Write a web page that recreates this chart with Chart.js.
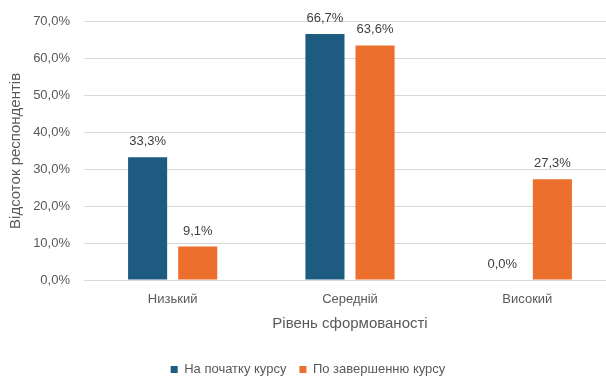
<!DOCTYPE html>
<html lang="uk">
<head>
<meta charset="utf-8">
<title>Рівень сформованості</title>
<script src="https://cdn.jsdelivr.net/npm/chart.js@4/dist/chart.umd.min.js"></script>
<style>
  html, body { margin: 0; padding: 0; background: #fff; overflow: hidden; }
  #wrap { position: relative; width: 620px; height: 386px; }
</style>
</head>
<body>
<div id="wrap"><canvas id="grafik"></canvas></div>
<script>
  // Дані діаграми
  const categorias = ['Низький', 'Середній', 'Високий'];
  const serieNomes = ['На початку курсу', 'По завершенню курсу'];
  const naPochatku = [33.3, 66.7, 0.0];
  const poZavershenniu = [9.1, 63.6, 27.3];
  const yMax = 70;
  const yPasso = 10;

  const CORES = ['#1d5b80', '#ec6f2d'];
  const TEXTO = '#595959';
  const GRADE = '#d9d9d9';
  const FONTE = "'Liberation Sans', Arial, sans-serif";

  const fmtPct = (v) => v.toFixed(1).replace('.', ',') + '%';

  // Rótulos de valor acima de cada barra
  const rotulosBarras = {
    id: 'rotulosBarras',
    afterDatasetsDraw(chart) {
      const ctx = chart.ctx;
      ctx.save();
      ctx.font = `13px ${FONTE}`;
      ctx.fillStyle = '#404040';
      ctx.textAlign = 'center';
      ctx.textBaseline = 'bottom';
      chart.data.datasets.forEach((ds, i) => {
        chart.getDatasetMeta(i).data.forEach((bar, j) => {
          ctx.fillText(fmtPct(ds.data[j]), bar.x, bar.y - 9);
        });
      });
      ctx.restore();
    },
  };

  const dados = {
    labels: categorias,
    datasets: [
      { label: serieNomes[0], data: naPochatku, backgroundColor: CORES[0] },
      { label: serieNomes[1], data: poZavershenniu, backgroundColor: CORES[1] },
    ].map((d) => ({ ...d, categoryPercentage: 0.565, barPercentage: 0.78 })),
  };

  const opcoes = {
    responsive: true,
    maintainAspectRatio: false,
    animation: false,
    layout: { padding: { top: 19, right: 4, left: 0, bottom: 0 } },
    plugins: {
      legend: {
        position: 'bottom',
        labels: {
          color: TEXTO,
          font: { family: FONTE, size: 13 },
          boxWidth: 7,
          boxHeight: 7,
          padding: 13,
        },
      },
      tooltip: { enabled: false },
    },
    scales: {
      x: {
        grid: { display: false, drawTicks: false },
        border: { color: GRADE },
        ticks: { color: TEXTO, font: { family: FONTE, size: 13 }, padding: 12 },
        title: {
          display: true,
          text: 'Рівень сформованості',
          color: TEXTO,
          font: { family: FONTE, size: 15 },
          padding: { top: 0, bottom: 17 },
        },
        afterFit: (s) => { s.height = 70; },
      },
      y: {
        min: 0,
        max: yMax,
        grid: { color: GRADE, drawTicks: false },
        border: { display: false },
        ticks: {
          stepSize: yPasso,
          color: TEXTO,
          padding: 14,
          font: { family: FONTE, size: 13 },
          callback: (v) => fmtPct(v),
        },
        title: {
          display: true,
          text: 'Відсоток респондентів',
          color: TEXTO,
          font: { family: FONTE, size: 15 },
          padding: { top: 7, bottom: 0 },
        },
        afterFit: (s) => { s.width = 84; },
      },
    },
  };

  new Chart(document.getElementById('grafik'), {
    type: 'bar',
    data: dados,
    options: opcoes,
    plugins: [rotulosBarras],
  });
</script>
</body>
</html>
